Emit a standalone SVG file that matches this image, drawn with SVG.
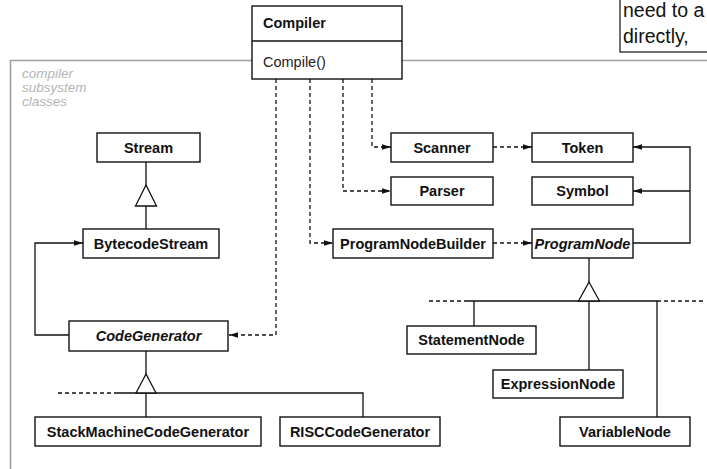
<svg xmlns="http://www.w3.org/2000/svg" width="707" height="469" viewBox="0 0 707 469">
<style>
.box{fill:#fff;stroke:#111;stroke-width:1.4}
.t{font-family:"Liberation Sans",Arial,sans-serif;font-size:14.5px;font-weight:bold;fill:#111;text-anchor:middle}
.ti{font-family:"Liberation Sans",Arial,sans-serif;font-size:14.5px;font-weight:bold;font-style:italic;fill:#111;text-anchor:middle}
.ln{fill:none;stroke:#111;stroke-width:1.3}
.dl{fill:none;stroke:#111;stroke-width:1.3;stroke-dasharray:4 3}
.tri{fill:#fff;stroke:#111;stroke-width:1.3}
.frame{fill:none;stroke:#a0a0a0;stroke-width:1.6}
.lbl{font-family:"Liberation Sans",Arial,sans-serif;font-size:13.5px;font-style:italic;fill:#b4b4b4}
.note{font-family:"Liberation Sans",Arial,sans-serif;font-size:19.5px;fill:#111}
</style>
<defs>
<marker id="ah" markerUnits="userSpaceOnUse" markerWidth="10" markerHeight="8" refX="9" refY="3.5" orient="auto">
<path d="M0,0.8 L9,3.5 L0,6.2 z" fill="#111"/>
</marker>
</defs>
<rect x="0" y="0" width="707" height="469" fill="#fff"/>
<g id="frame">
<path class="frame" d="M707,60.5 H10.5 V469"/>
<text class="lbl" x="22" y="78">compiler</text>
<text class="lbl" x="22" y="92">subsystem</text>
<text class="lbl" x="22" y="106">classes</text>
</g>
<g id="note">
<rect x="620" y="-2" width="100" height="54" fill="#fff" stroke="#111" stroke-width="1.2"/>
<text class="note" x="623" y="17">need to a</text>
<text class="note" x="623" y="43">directly,</text>
</g>
<g id="connectors">
<path class="dl" d="M276,79 V335 H229" marker-end="url(#ah)"/>
<path class="dl" d="M310,79 V243 H333" marker-end="url(#ah)"/>
<path class="dl" d="M343,79 V191 H391" marker-end="url(#ah)"/>
<path class="dl" d="M372,79 V147 H391" marker-end="url(#ah)"/>
<path class="dl" d="M493,147 H532" marker-end="url(#ah)"/>
<path class="dl" d="M493,243 H532" marker-end="url(#ah)"/>
<path class="ln" d="M633,243 H690 V147 H633" marker-end="url(#ah)"/>
<path class="ln" d="M690,191 H633" marker-end="url(#ah)"/>
<path class="ln" d="M69,335 H35 V243 H83" marker-end="url(#ah)"/>
<path class="ln" d="M146,162 V185 M146,206 V229"/>
<polygon class="tri" points="146,185 135.5,206 156.5,206"/>
<path class="ln" d="M146,351 V374 M117,393 H363 V417 M146,393 V417"/>
<path class="dl" d="M58,393 H117"/>
<polygon class="tri" points="146,374 136,393 156,393"/>
<path class="ln" d="M589,258 V282 M467,301 H657 M474,301 V326 M589,301 V370 M657,301 V417"/>
<path class="dl" d="M429,301 H467 M657,301 H704"/>
<polygon class="tri" points="589,282 578.5,301 599.5,301"/>
</g>
<g id="Compiler">
<rect class="box" x="252" y="6" width="150" height="73"/>
<line x1="252" y1="41" x2="402" y2="41" stroke="#111" stroke-width="1.4"/>
<text class="t" x="263" y="28" style="text-anchor:start">Compiler</text>
<text x="263" y="67" style="font-family:'Liberation Sans',Arial,sans-serif;font-size:14.5px;fill:#222">Compile()</text>
</g>
<g id="Stream"><rect class="box" x="97" y="133" width="103" height="29"/><text class="t" x="148.5" y="153">Stream</text></g>
<g id="BytecodeStream"><rect class="box" x="83" y="229" width="136" height="29"/><text class="t" x="151" y="249">BytecodeStream</text></g>
<g id="CodeGenerator"><rect class="box" x="69" y="321" width="159" height="30"/><text class="ti" x="148.5" y="341">CodeGenerator</text></g>
<g id="StackMachineCodeGenerator"><rect class="box" x="35" y="417" width="226" height="29"/><text class="t" x="148" y="437">StackMachineCodeGenerator</text></g>
<g id="RISCCodeGenerator"><rect class="box" x="280" y="417" width="160" height="29"/><text class="t" x="360" y="437">RISCCodeGenerator</text></g>
<g id="Scanner"><rect class="box" x="391" y="133" width="102" height="29"/><text class="t" x="442" y="153">Scanner</text></g>
<g id="Parser"><rect class="box" x="391" y="177" width="102" height="28"/><text class="t" x="442" y="196">Parser</text></g>
<g id="ProgramNodeBuilder"><rect class="box" x="333" y="229" width="160" height="29"/><text class="t" x="413" y="249">ProgramNodeBuilder</text></g>
<g id="Token"><rect class="box" x="532" y="133" width="101" height="29"/><text class="t" x="582.5" y="153">Token</text></g>
<g id="Symbol"><rect class="box" x="532" y="177" width="101" height="28"/><text class="t" x="582.5" y="196">Symbol</text></g>
<g id="ProgramNode"><rect class="box" x="532" y="229" width="101" height="29"/><text class="ti" x="582.5" y="249">ProgramNode</text></g>
<g id="StatementNode"><rect class="box" x="407" y="326" width="129" height="28"/><text class="t" x="471.5" y="345">StatementNode</text></g>
<g id="ExpressionNode"><rect class="box" x="493" y="370" width="130" height="28"/><text class="t" x="558" y="389">ExpressionNode</text></g>
<g id="VariableNode"><rect class="box" x="560" y="417" width="130" height="29"/><text class="t" x="625" y="437">VariableNode</text></g>
</svg>
